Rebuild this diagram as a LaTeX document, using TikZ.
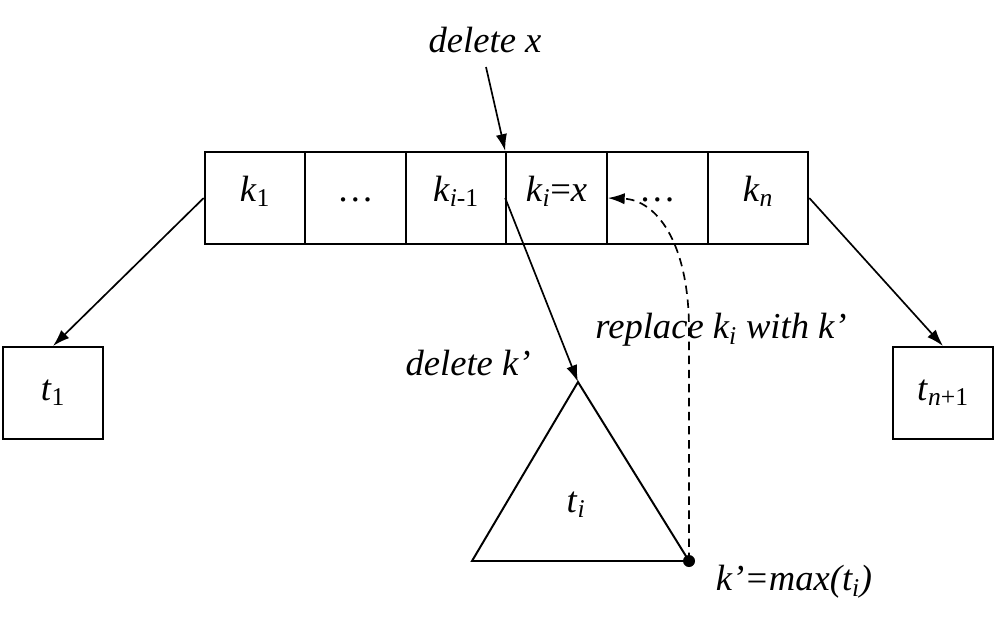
\documentclass[tikz,border=0pt]{standalone}
\usepackage{fontspec}
\setmainfont{Liberation Serif}
\usetikzlibrary{arrows.meta}
\begin{document}
\begin{tikzpicture}[x=0.025cm,y=-0.025cm]
        \tikzstyle{cell}=[rectangle,draw=black,line width=1.4pt,minimum width=2.515cm,minimum height=2.3cm,inner sep=0pt,text height=0.7em,text depth=0.25em,font=\fontsize{26}{30}\selectfont]
        \tikzstyle{leaf}=[rectangle,draw=black,line width=1.4pt,minimum width=2.52cm,minimum height=2.3cm,inner sep=0pt,font=\fontsize{26}{30}\selectfont]
        \tikzstyle{label}=[inner sep=1pt,font=\fontsize{26}{30}\selectfont\itshape]
        \tikzstyle{edge}=[draw,line width=1.2pt,->,>={Latex[length=12pt,width=8pt]}]
        \useasboundingbox (0,0) rectangle (995,625);
        % node with keys
        \node [cell] (k1) at (255,198) {\textit{k}\textsubscript{1}};
        \node [cell] (dotsa) at (355.5,198) {\dots};
        \node [cell] (kprev) at (456,198) {\textit{k}\textsubscript{\textit{i}-1}};
        \node [cell] (ki) at (556.5,198) {\textit{k}\textsubscript{\textit{i}}=\textit{x}};
        \node [cell] (dotsb) at (657.5,198) {\dots};
        \node [cell] (kn) at (758,198) {\textit{k}\textsubscript{\textit{n}}};
        % subtrees
        \node [leaf] (t1) at (53,393) {\textit{t}\textsubscript{1}};
        \node [leaf] (tn) at (943,393) {\textit{t}\textsubscript{\textit{n}+1}};
        \coordinate (ta) at (578,382);
        \coordinate (tl) at (472,561);
        \coordinate (tr) at (689,561);
        \draw [line width=1.4pt] (ta) -- (tl) -- (tr) -- cycle;
        \node [label,font=\fontsize{26}{30}\selectfont] (ti) at (576,505) {\textit{t}\textsubscript{\textit{i}}};
        \node [circle,fill=black,inner sep=0pt,minimum size=0.3cm] (kmax) at (tr) {};
        % labels
        \node [label] (delx) at (485,40) {delete x};
        \node [label] (delk) at (468,363) {delete k’};
        \node [label] (repl) at (721,330) {replace k\textsubscript{\textit{i}} with k’};
        \node [label] (maxk) at (794,582) {k’=max(\textit{t}\textsubscript{\textit{i}})};
        \coordinate (dxs) at (486,67);
        % connectors
        \path[edge] (k1.west) -- (t1.north);
        \path[edge] (kn.east) -- (tn.north);
        \path[edge] (dxs) -- (ki.north west);
        \path[edge] (ki.west) -- (ta);
        \path[edge,dash pattern=on 6pt off 4pt] (kmax.center) -- (689,330) .. controls (689,240) and (655,200) .. (ki.east);
      \end{tikzpicture}
\end{document}
